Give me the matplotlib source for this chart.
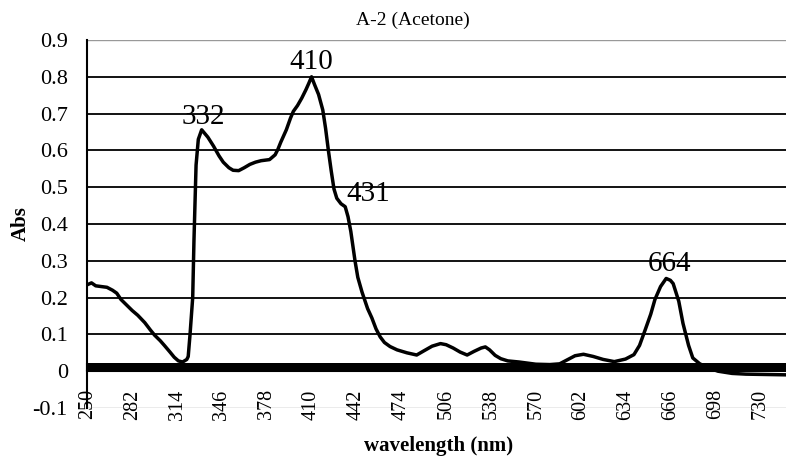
import matplotlib
matplotlib.use("Agg")
import matplotlib.pyplot as plt
from matplotlib.ticker import MultipleLocator, FixedLocator, FixedFormatter

# spectrum
wavelength = [250, 253, 256, 260, 264, 268, 271, 274, 278, 282, 286, 291, 295, 298,
              302, 305, 309, 312, 315, 318, 321, 322, 323.3, 325.2, 326.1, 327.6, 329.2,
              331.6, 336, 340, 344, 347, 351, 354, 358, 362, 366, 370, 374, 380, 384,
              386, 388, 392, 395, 397, 400, 403, 406, 408, 410, 412, 415, 418, 420,
              422, 424, 426, 428, 431, 434, 436, 438, 441, 443, 446, 450, 453, 456,
              459, 462, 466, 471, 478, 485, 490, 496, 502, 506, 511, 516, 521, 526,
              531, 534, 537, 541, 545, 550, 558, 570, 580, 587, 592, 598, 604, 611,
              618, 626, 634, 640, 644, 648, 652, 655, 659, 663, 666, 668, 672, 675,
              679, 682, 687, 694, 700, 710, 720, 735, 750]
absorbance = [0.235, 0.24, 0.232, 0.23, 0.228, 0.22, 0.212, 0.195, 0.18, 0.165, 0.152,
              0.132, 0.112, 0.098, 0.083, 0.07, 0.052, 0.038, 0.028, 0.025, 0.032, 0.04,
              0.1, 0.2, 0.355, 0.56, 0.63, 0.656, 0.636, 0.612, 0.585, 0.568, 0.553,
              0.546, 0.545, 0.553, 0.562, 0.568, 0.572, 0.575, 0.588, 0.603, 0.622,
              0.656, 0.688, 0.706, 0.722, 0.742, 0.765, 0.782, 0.80, 0.78, 0.752, 0.71,
              0.66, 0.6, 0.545, 0.495, 0.47, 0.455, 0.447, 0.42, 0.38, 0.3, 0.255, 0.215,
              0.17, 0.145, 0.115, 0.093, 0.078, 0.067, 0.058, 0.05, 0.044, 0.055, 0.068,
              0.075, 0.072, 0.063, 0.052, 0.044, 0.054, 0.063, 0.066, 0.058, 0.043,
              0.034, 0.028, 0.025, 0.019, 0.018, 0.02, 0.03, 0.042, 0.046, 0.04, 0.032,
              0.026, 0.033, 0.045, 0.07, 0.112, 0.155, 0.195, 0.23, 0.252, 0.247, 0.238,
              0.19, 0.13, 0.07, 0.036, 0.02, 0.008, 0.0, -0.006, -0.008, -0.009, -0.01]

peaks = [332, 410, 431, 664]
x_ticks = [250, 282, 314, 346, 378, 410, 442, 474, 506, 538, 570, 602, 634, 666, 698, 730]
y_ticks = [-0.1, 0, 0.1, 0.2, 0.3, 0.4, 0.5, 0.6, 0.7, 0.8, 0.9]
y_labels = ['-0.1', '0', '0.1', '0.2', '0.3', '0.4', '0.5', '0.6', '0.7', '0.8', '0.9']

plt.rcParams['font.family'] = ['Liberation Serif', 'DejaVu Serif']

fig = plt.figure(figsize=(7.86, 4.66), dpi=100)
ax = fig.add_axes([87.3 / 786, 1 - 408 / 466, 1 - 87.3 / 786, (408 - 40) / 466])

ax.plot(wavelength, absorbance, color='black', lw=2.5, zorder=3)

ax.set_xlim(250, 748.5)
ax.set_ylim(-0.1, 0.9)

# gridlines
ax.yaxis.set_major_locator(FixedLocator(y_ticks))
ax.yaxis.set_major_formatter(FixedFormatter(y_labels))
ax.grid(axis='y', color='black', lw=1.3)
glines = ax.get_ygridlines()
for i in (0, len(glines) - 1):
    glines[i].set_color('#999999')
    glines[i].set_linewidth(1.0)

# category axis crossing at zero with dense ticks
ax.spines['bottom'].set_position(('data', 0))
ax.spines['bottom'].set_linewidth(1.5)
ax.spines['right'].set_visible(False)
ax.spines['top'].set_visible(False)
ax.spines['left'].set_linewidth(1.5)
ax.xaxis.set_major_locator(FixedLocator(x_ticks))
ax.xaxis.set_minor_locator(MultipleLocator(1))
ax.tick_params(axis='x', which='both', direction='in', length=5.5, width=1.5,
               pad=13, labelsize=14.5, labelrotation=90)
ax.tick_params(axis='y', length=0, pad=14, labelsize=16)

for nm, dx, dy in zip(peaks, [1.3, 0, 19.4, 2.4], [9.4, 11, 7, 10.3]):
    i = min(range(len(wavelength)), key=lambda k: abs(wavelength[k] - nm))
    ax.annotate(str(nm), xy=(wavelength[i], absorbance[i]), xytext=(dx, dy),
                textcoords='offset points', ha='center', va='center', fontsize=21)

fig.text(413 / 786, 1 - 20 / 466, 'A-2 (Acetone)', ha='center', va='center', fontsize=14)
fig.text(21 / 786, 1 - 224 / 466, 'Abs', rotation=90, ha='center', va='center',
         fontsize=15, fontweight='bold')
fig.text(439 / 786, 1 - 446 / 466, 'wavelength (nm)', ha='center', va='center',
         fontsize=15, fontweight='bold')

fig.savefig('out.png', dpi=100)
